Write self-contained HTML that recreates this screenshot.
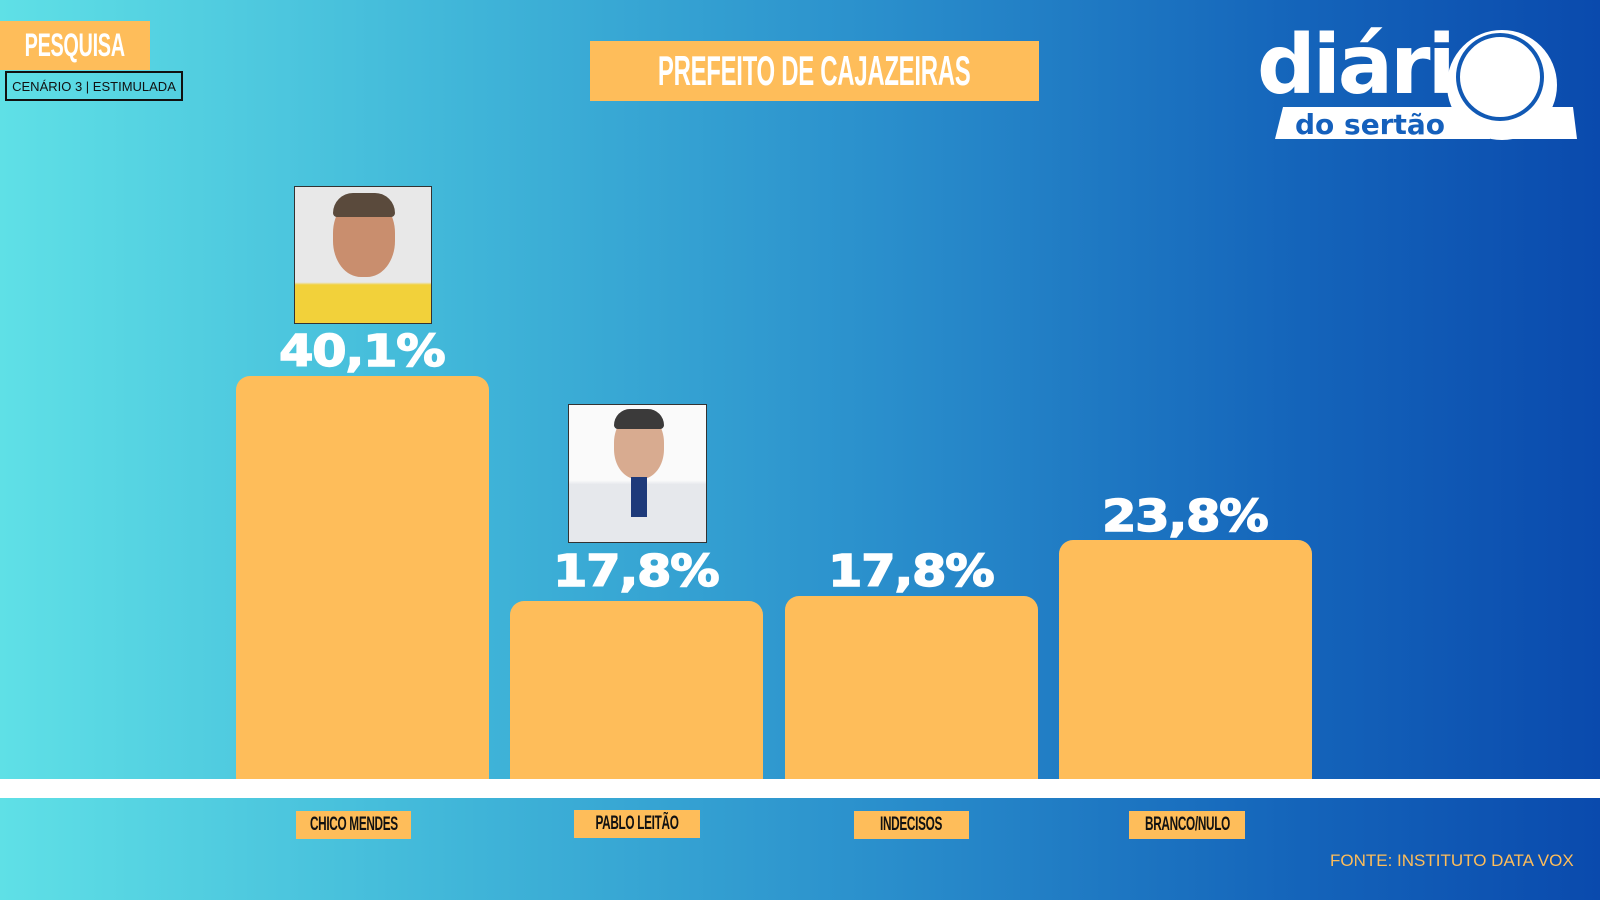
<!DOCTYPE html>
<html><head><meta charset="utf-8"><style>
*{margin:0;padding:0;box-sizing:border-box}
body{width:1600px;height:900px;overflow:hidden;position:relative;font-family:"Liberation Sans",sans-serif;
background:linear-gradient(90deg,#5fe0e6 0%,#3fb4d8 30%,#2a8fcc 55%,#1566bb 80%,#0a4aad 100%);}
.a{position:absolute}
.bar{position:absolute;background:#febd5a;border-radius:14px 14px 0 0}
.box{display:flex;justify-content:center;align-items:center}
.cond{display:inline-block;flex:none;font-weight:bold;transform:scaleX(0.62);transform-origin:center;white-space:nowrap;letter-spacing:-0.5px}
.lab{position:absolute;background:#febd5a;color:#111;font-size:19px;height:28px}
.pct{position:absolute;color:#fff;font-family:"DejaVu Sans","Liberation Sans",sans-serif;font-weight:900;font-size:44px;text-align:center;width:300px;letter-spacing:-1px}
.pct span{display:inline-block;transform:scaleX(1.12);-webkit-text-stroke:1.5px #fff}
.photo{position:absolute;border:1px solid #333;background:#eee;overflow:hidden}
</style></head><body>
<div class="a box" style="left:0;top:21px;width:150px;height:49px;background:#febd5a;color:#fff;font-size:32px"><span class="cond">PESQUISA</span></div>
<div class="a box" style="left:5px;top:71px;width:178px;height:30px;border:2px solid #111;font-size:13px;color:#111;white-space:nowrap">CENÁRIO 3 | ESTIMULADA</div>
<div class="a box" style="left:590px;top:41px;width:449px;height:60px;background:#febd5a;color:#fff;font-size:42px"><span class="cond" style="transform:scaleX(0.57)">PREFEITO DE CAJAZEIRAS</span></div>

<svg class="a" style="left:1255px;top:25px" width="330" height="125" viewBox="0 0 330 125">
<text x="2" y="68" font-family="DejaVu Sans,Liberation Sans,sans-serif" font-weight="bold" font-size="82" fill="#fff" letter-spacing="-3">diári</text>
<path d="M28 82 L230 82 L235 114 L20 114 Z" fill="#fff"/>
<path d="M230 82 L318 82 L322 114 L240 114 Z" fill="#fff"/>
<circle cx="247" cy="60" r="55" fill="#fff"/>
<circle cx="245" cy="52" r="42" fill="none" stroke="#1159b4" stroke-width="4"/>
<text x="40" y="109" font-family="DejaVu Sans,Liberation Sans,sans-serif" font-weight="bold" font-size="28" fill="#1560bc">do sertão</text>
</svg>

<div class="photo" style="left:294px;top:186px;width:138px;height:138px;background:linear-gradient(#e8e8e8 0%,#e8e8e8 70%,#f2d13a 72%,#f2d13a 100%)">
<div class="a" style="left:38px;top:10px;width:62px;height:80px;border-radius:45%;background:#c98e6e"></div>
<div class="a" style="left:38px;top:6px;width:62px;height:24px;border-radius:30px 30px 6px 6px;background:#5a4a3c"></div></div>
<div class="photo" style="left:568px;top:404px;width:139px;height:139px;background:linear-gradient(#fafafa 0%,#fafafa 55%,#e6e8ec 58%)">
<div class="a" style="left:45px;top:8px;width:50px;height:66px;border-radius:45%;background:#d8ab90"></div>
<div class="a" style="left:45px;top:4px;width:50px;height:20px;border-radius:25px 25px 6px 6px;background:#3b3a3a"></div>
<div class="a" style="left:62px;top:72px;width:16px;height:40px;background:#1e3a7a"></div></div>

<div class="pct" style="left:212px;top:326px"><span>40,1%</span></div>
<div class="pct" style="left:486px;top:546px"><span>17,8%</span></div>
<div class="pct" style="left:761px;top:546px"><span>17,8%</span></div>
<div class="pct" style="left:1035px;top:491px"><span>23,8%</span></div>

<div class="bar" style="left:236px;top:376px;width:253px;height:404px"></div>
<div class="bar" style="left:510px;top:601px;width:253px;height:179px"></div>
<div class="bar" style="left:785px;top:596px;width:253px;height:184px"></div>
<div class="bar" style="left:1059px;top:540px;width:253px;height:240px"></div>
<div class="a" style="left:0;top:779px;width:1600px;height:19px;background:#fff"></div>

<div class="lab box" style="left:296px;top:811px;width:115px"><span class="cond">CHICO MENDES</span></div>
<div class="lab box" style="left:574px;top:810px;width:126px"><span class="cond">PABLO LEITÃO</span></div>
<div class="lab box" style="left:854px;top:811px;width:115px"><span class="cond">INDECISOS</span></div>
<div class="lab box" style="left:1129px;top:811px;width:116px"><span class="cond">BRANCO/NULO</span></div>

<div class="a" style="left:1330px;top:851px;width:245px;color:#febd5a;font-size:17px;white-space:nowrap">FONTE: INSTITUTO DATA VOX</div>
</body></html>
